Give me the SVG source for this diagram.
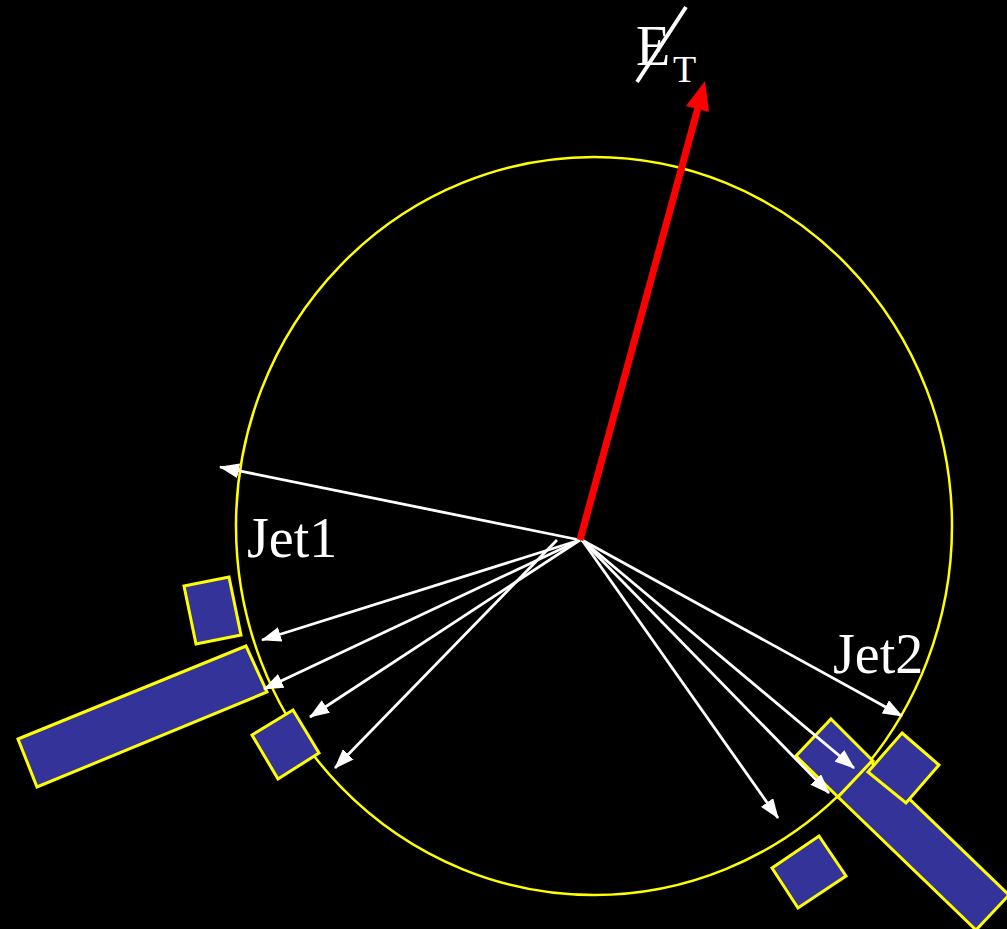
<svg xmlns="http://www.w3.org/2000/svg" width="1007" height="929" viewBox="0 0 1007 929">
<style>
.box{fill:#333399;stroke:#FFFF00;stroke-width:3;stroke-linejoin:miter}
.trk{stroke:#FFFFFF;stroke-width:2.8;fill:none;marker-end:url(#ah)}
.lbl{font-family:"Liberation Serif","Times New Roman",serif;fill:#FFFFFF}
</style>
<defs>
<marker id="ah" viewBox="0 0 20 15" refX="19" refY="7.5" markerWidth="20" markerHeight="15" orient="auto" markerUnits="userSpaceOnUse">
<path d="M0,0 L20,7.5 L0,15 z" fill="#FFFFFF"/>
</marker>
</defs>
<rect x="0" y="0" width="1007" height="929" fill="#000000"/>
<g id="circle">
<ellipse cx="594" cy="526" rx="358" ry="369" fill="none" stroke="#FFFF00" stroke-width="2.5"/>
</g>
<g id="towers">
<polygon id="boxA" class="box" points="184,586 229,577 241,635 196,644"/>
<polygon id="boxB" class="box" points="18,739 246,646 267,692 37,787"/>
<polygon id="boxC" class="box" points="252,735 293,710 319,753 278,779"/>
<polygon id="boxD" class="box" points="831,719 873,761 838,797 796,756"/>
<polygon id="boxE" class="box" points="838,797 871,762 1009,895 976,930"/>
<polygon id="boxF" class="box" points="902,733 939,765 906,803 868,772"/>
<polygon id="boxG" class="box" points="772,868 819,836 846,876 798,908"/>
</g>
<g id="connectors">
<line class="trk" x1="580" y1="540" x2="220" y2="467"/>
<line class="trk" x1="580" y1="540" x2="262" y2="640"/>
<line class="trk" x1="580" y1="540" x2="264" y2="689"/>
<line class="trk" x1="580" y1="540" x2="310" y2="717"/>
<line class="trk" x1="557" y1="540" x2="335" y2="768"/>
<line class="trk" x1="582" y1="540" x2="778" y2="818"/>
<line class="trk" x1="582" y1="540" x2="829" y2="793"/>
<line class="trk" x1="582" y1="540" x2="854" y2="768"/>
<line class="trk" x1="582" y1="540" x2="902" y2="716"/>
<g id="met">
<line x1="580" y1="540" x2="699" y2="104" stroke="#FF0000" stroke-width="7"/>
<polygon points="705,81 686,106 709,112" fill="#FF0000"/>
</g>
</g>
<g id="labels">
<text class="lbl" x="636" y="65" font-size="56">E</text>
<text class="lbl" x="673" y="82" font-size="38">T</text>
<line x1="686" y1="7" x2="637" y2="82" stroke="#FFFFFF" stroke-width="4"/>
<text class="lbl" x="247" y="557" font-size="56">Jet1</text>
<text class="lbl" x="833" y="673" font-size="56">Jet2</text>
</g>
</svg>
